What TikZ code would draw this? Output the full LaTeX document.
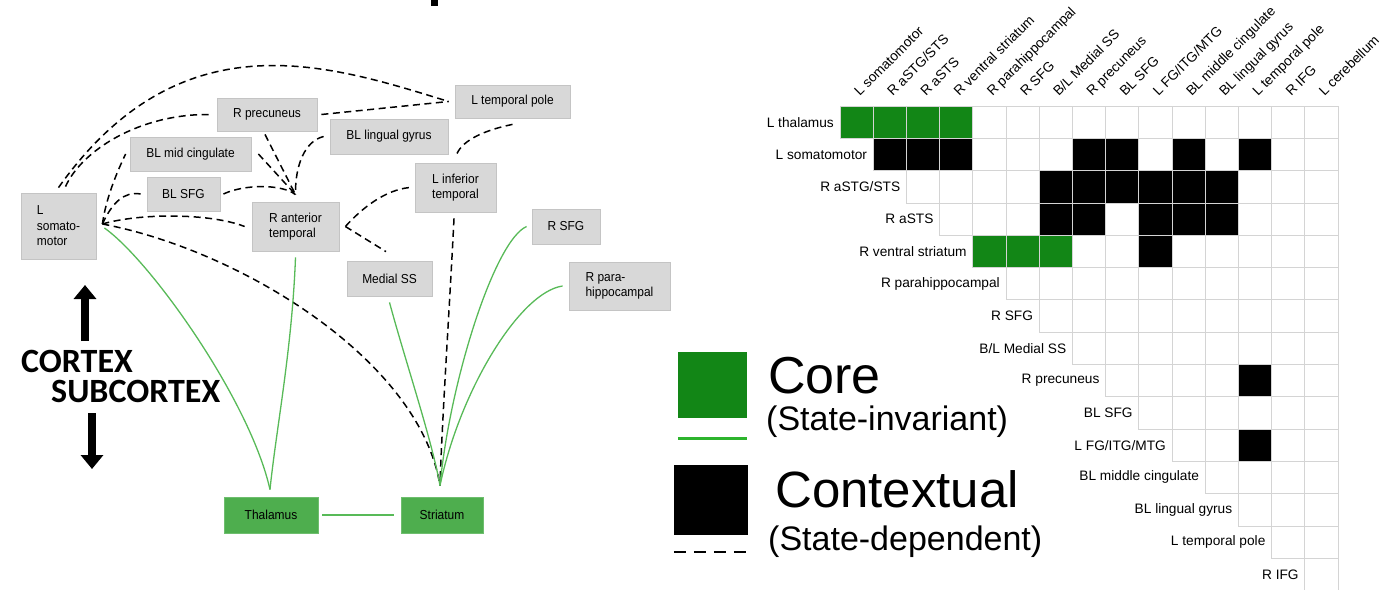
\documentclass[tikz,border=0pt]{standalone}
\usepackage{fontspec}
\setmainfont{Liberation Sans}
\newfontfamily\boxfont[FakeStretch=0.92]{Liberation Sans}
\newfontfamily\ctxfont{Carlito}
\usetikzlibrary{arrows.meta}
\definecolor{cellgreen}{RGB}{18,134,22}
\definecolor{boxgreen}{RGB}{78,174,78}
\definecolor{boxgreenedge}{RGB}{110,190,110}
\definecolor{linegreen}{RGB}{88,186,88}
\definecolor{legendgreen}{RGB}{45,180,45}
\definecolor{boxgray}{RGB}{216,216,216}
\definecolor{boxedge}{RGB}{196,196,196}
\definecolor{gridgray}{RGB}{212,212,212}
\begin{document}
\begin{tikzpicture}[x=1pt,y=-1pt,
  gbox/.style={draw=boxedge,fill=boxgray,line width=0.8pt,inner sep=0pt,align=left,font=\boxfont\fontsize{13}{15.5}\selectfont},
  sbox/.style={draw=boxgreenedge,fill=boxgreen,line width=0.8pt,inner sep=0pt,font=\boxfont\fontsize{13}{15.5}\selectfont},
  ctx/.style={black,line width=1.5pt,dash pattern=on 7pt off 4.5pt},
  core/.style={linegreen,line width=1.3pt},
  gridlab/.style={inner sep=0pt,font=\fontsize{13.7}{15}\selectfont},
  cellbox/.style={draw=gridgray,line width=0.8pt},
  bigarrow/.style={line width=8pt,-{Triangle[width=22pt,length=14pt]}},
  cortexlab/.style={inner sep=0pt,anchor=base west,font=\ctxfont\bfseries\fontsize{34}{34}\selectfont}
]
\useasboundingbox (0,0) rectangle (1381,589);
% cut-off title glyph
\fill[black] (431,0) rectangle (438,6);

% ---------------- left network ----------------
\node[gbox,minimum width=115pt,minimum height=33pt] (tpole) at (512.5,101.5) {L temporal pole};
\node[gbox,minimum width=100pt,minimum height=33pt] (prec) at (267,114.5) {R precuneus};
\node[gbox,minimum width=118pt,minimum height=35pt] (ling) at (389,136.5) {BL lingual gyrus};
\node[gbox,minimum width=121pt,minimum height=34pt] (mcing) at (190.5,154) {BL mid cingulate};
\node[gbox,minimum width=73pt,minimum height=34pt] (bsfg) at (183.5,194) {BL SFG};
\node[gbox,minimum width=75pt,minimum height=66pt] (som) at (58.5,226) {L\\somato-\\motor};
\node[gbox,minimum width=87pt,minimum height=49pt] (rat) at (295.5,226.5) {R anterior\\temporal};
\node[gbox,minimum width=81pt,minimum height=49pt] (lit) at (455.5,187.5) {L inferior\\temporal};
\node[gbox,minimum width=68pt,minimum height=35pt] (rsfg) at (566,226.5) {R SFG};
\node[gbox,minimum width=85pt,minimum height=35pt] (mss) at (389.5,278.5) {Medial SS};
\node[gbox,minimum width=101pt,minimum height=48pt] (rph) at (619.5,286) {R para-\\hippocampal};
\node[sbox,minimum width=94pt,minimum height=36pt] (thal) at (271,515) {Thalamus};
\node[sbox,minimum width=82pt,minimum height=36pt] (stri) at (442,515) {Striatum};

% connector end points (just off the boxes)
\coordinate (smA) at ([yshift=5pt]som.north);
\coordinate (smB) at ([xshift=7pt,yshift=6pt]som.north);
\coordinate (smR) at ([xshift=6pt,yshift=2pt]som.east);
\coordinate (smG) at ([xshift=8pt,yshift=-2pt]som.east);
\coordinate (tpL) at ([xshift=-6pt]tpole.west);
\coordinate (tpB) at ([yshift=-6pt]tpole.south);
\coordinate (prL) at ([xshift=-8pt]prec.west);
\coordinate (prR) at ([xshift=4pt]prec.east);
\coordinate (prB) at ([xshift=-2pt,yshift=-3pt]prec.south);
\coordinate (lgL) at ([xshift=-6pt]ling.west);
\coordinate (mcB) at ([xshift=-4pt]mcing.west);
\coordinate (mcR) at ([xshift=7pt]mcing.east);
\coordinate (bsL) at ([xshift=-6pt]bsfg.west);
\coordinate (bsR) at ([xshift=3pt]bsfg.east);
\coordinate (raT) at ([yshift=7pt]rat.north);
\coordinate (raL) at ([xshift=-7pt]rat.west);
\coordinate (raR) at ([xshift=6pt]rat.east);
\coordinate (raB) at ([yshift=-6pt]rat.south);
\coordinate (itT) at ([xshift=1.5pt,yshift=9pt]lit.north);
\coordinate (itL) at ([xshift=-5pt]lit.west);
\coordinate (itB) at ([xshift=-1.5pt,yshift=-6pt]lit.south);
\coordinate (msT) at ([xshift=-3.5pt,yshift=9pt]mss.north);
\coordinate (msB) at ([yshift=-6pt]mss.south);
\coordinate (rsL) at ([xshift=-5pt]rsfg.west);
\coordinate (rpL) at ([xshift=-6pt]rph.west);
\coordinate (thT) at ([xshift=-1pt,yshift=7pt]thal.north);
\coordinate (thR) at ([xshift=4pt]thal.east);
\coordinate (stT) at ([xshift=-2pt,yshift=11pt]stri.north);
\coordinate (stL) at ([xshift=-7pt]stri.west);

% contextual (dashed) connections
\draw[ctx] (smA) .. controls (181,15) and (330,65) .. (tpL);
\draw[ctx] (smB) .. controls (82,150) and (140,114) .. (prL);
\draw[ctx] (prR) -- (tpL);
\draw[ctx] (smR) .. controls (106,198) and (117,172) .. (mcB);
\draw[ctx] (smR) .. controls (112,203) and (124,191) .. (bsL);
\draw[ctx] (smR) .. controls (140,213) and (210,213) .. (raL);
\draw[ctx] (smR) .. controls (240,250) and (420,360) .. (stT);
\draw[ctx] (prB) -- (raT);
\draw[ctx] (mcR) -- (raT);
\draw[ctx] (bsR) .. controls (245,184) and (282,184) .. (raT);
\draw[ctx] (lgL) .. controls (305,141) and (295,165) .. (raT);
\draw[ctx] (raR) .. controls (362,208) and (385,190) .. (itL);
\draw[ctx] (raR) -- (msT);
\draw[ctx] (tpB) .. controls (485,130) and (463,140) .. (itT);
\draw[ctx] (itB) .. controls (450,300) and (442,420) .. (stT);

% core (green) connections
\draw[core] (smG) .. controls (150,260) and (250,400) .. (thT);
\draw[core] (raB) .. controls (292,350) and (276,430) .. (thT);
\draw[core] (msB) .. controls (405,360) and (432,440) .. (stT);
\draw[core] (rsL) .. controls (495,240) and (450,380) .. (stT);
\draw[core] (rpL) .. controls (520,292) and (460,390) .. (stT);
\draw[core] (thR) -- (stL);

% cortex / subcortex arrows
\draw[bigarrow] (85,341) -- (85,285);
\draw[bigarrow] (92,413) -- (92,469);
\node[cortexlab] (lcortex) at (21,372) {CORTEX};
\node[cortexlab] (lsubcortex) at (51,402) {SUBCORTEX};

% ---------------- legend ----------------
\node[fill=cellgreen,minimum width=69pt,minimum height=66pt,inner sep=0pt] (lgcore) at (712.5,385) {};
\node[fill=black,minimum width=74pt,minimum height=70pt,inner sep=0pt] (lgctx) at (711,500) {};
\draw[legendgreen,line width=3pt] ([yshift=-20pt]lgcore.south west) -- ([yshift=-20pt]lgcore.south east);
\draw[black,line width=2.5pt,dash pattern=on 12pt off 8pt] ([yshift=-17pt]lgctx.south west) -- ([yshift=-17pt]lgctx.south east);
\node[anchor=base west,inner sep=0pt,font=\fontsize{52}{52}\selectfont] (tcore) at (768,393) {Core};
\node[anchor=base west,inner sep=0pt,font=\fontsize{34}{34}\selectfont] (tinv) at (766,430) {(State-invariant)};
\node[anchor=base west,inner sep=0pt,font=\fontsize{51}{51}\selectfont] (tctx) at (775,507) {Contextual};
\node[anchor=base west,inner sep=0pt,font=\fontsize{34}{34}\selectfont] (tdep) at (768,550) {(State-dependent)};

% ---------------- matrix ----------------
\foreach \r/\c in {1/1,1/2,1/3,1/4,5/5,5/6,5/7}{
  \fill[cellgreen] ({840+(\c-1)*33.2},{106+(\r-1)*32.3}) rectangle ++(33.2,32.3);
}
\foreach \r/\c in {2/2,2/3,2/4,2/8,2/9,2/11,2/13,3/7,3/8,3/9,3/10,3/11,3/12,4/7,4/8,4/10,4/11,4/12,5/10,9/13,11/13}{
  \fill[black] ({840+(\c-1)*33.2},{106+(\r-1)*32.3}) rectangle ++(33.2,32.3);
}
\foreach \r in {1,...,15}{
  \foreach \c in {\r,...,15}{
    \draw[cellbox] ({840+(\c-1)*33.2},{106+(\r-1)*32.3}) rectangle ++(33.2,32.3);
  }
}
\foreach \r/\lab in {1/{L thalamus},2/{L somatomotor},3/{R aSTG/STS},4/{R aSTS},5/{R ventral striatum},6/{R parahippocampal},7/{R SFG},8/{B/L Medial SS},9/{R precuneus},10/{BL SFG},11/{L FG/ITG/MTG},12/{BL middle cingulate},13/{BL lingual gyrus},14/{L temporal pole},15/{R IFG}}{
  \node[gridlab,anchor=east] (row\r) at ({840+(\r-1)*33.2-6},{106+(\r-0.5)*32.3}) {\lab};
}
\foreach \c/\lab in {1/{L somatomotor},2/{R aSTG/STS},3/{R aSTS},4/{R ventral striatum},5/{R parahippocampal},6/{R SFG},7/{B/L Medial SS},8/{R precuneus},9/{BL SFG},10/{L FG/ITG/MTG},11/{BL middle cingulate},12/{BL lingual gyrus},13/{L temporal pole},14/{R IFG},15/{L cerebellum}}{
  \node[gridlab,rotate=45,anchor=base west] (col\c) at ({840+(\c-0.5)*33.2+3},97) {\lab};
}
\end{tikzpicture}
\end{document}
